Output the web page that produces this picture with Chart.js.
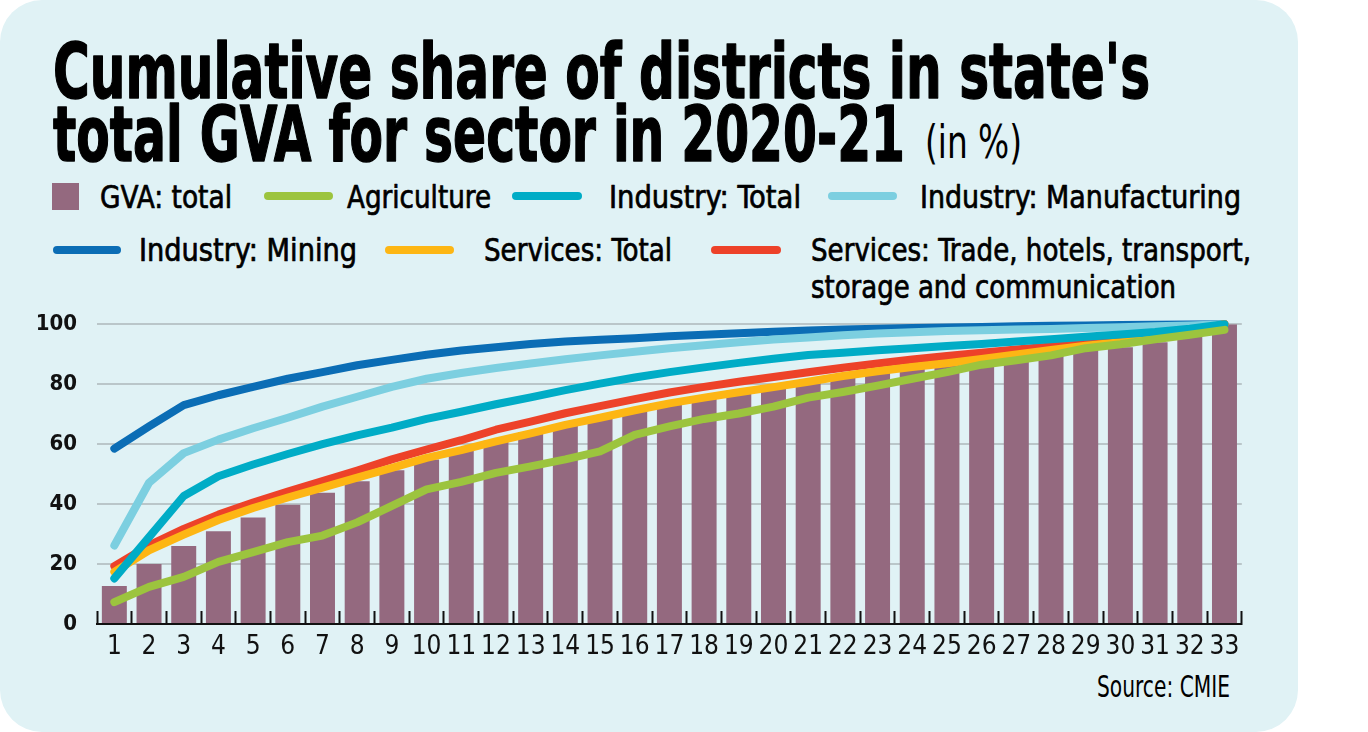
<!DOCTYPE html>
<html><head><meta charset="utf-8">
<script src="https://cdn.jsdelivr.net/npm/chart.js@4.4.1/dist/chart.umd.min.js"></script>
<style>
html,body{margin:0;padding:0;background:#ffffff;width:1368px;height:732px;overflow:hidden}
#bg{position:absolute;left:0;top:0}
#wrap{position:absolute;left:0;top:291px;width:1260px;height:394px}
</style></head><body>
<svg id="bg" width="1368" height="732" xmlns="http://www.w3.org/2000/svg">
  <rect x="0" y="0" width="1298" height="732" rx="42" ry="42" fill="#e0f2f5"/>
  <g id="txt" fill="#000"></g>
</svg>
<div id="wrap"><canvas id="c"></canvas></div>
<script>
// ---------------- DATA ----------------
const categories = ['1','2','3','4','5','6','7','8','9','10','11','12','13','14','15','16','17','18','19','20','21','22','23','24','25','26','27','28','29','30','31','32','33'];
const yTicks = [0, 20, 40, 60, 80, 100];

const gvaTotal = [12.7,20.0,26.0,30.9,35.5,39.8,43.8,47.6,51.3,54.9,58.2,61.1,64.0,66.6,69.1,71.4,73.6,75.8,77.8,79.6,81.3,82.8,84.5,85.9,87.2,88.4,89.6,90.6,91.4,92.3,94.0,95.8,100];
const agriculture = [7.3,12.4,15.7,20.7,24.0,27.3,29.5,33.9,39.4,44.9,47.4,50.4,52.6,54.9,57.6,63.1,65.9,68.4,70.2,72.5,75.5,77.4,79.5,81.8,84.0,86.5,88.0,89.6,92.0,93.3,95.0,96.5,98.1];
const industryTotal = [15.2,29.0,42.7,49.3,53.2,56.7,60.0,62.9,65.5,68.4,70.8,73.3,75.6,78.0,80.2,82.2,84.0,85.6,87.1,88.5,89.7,90.5,91.3,92.0,92.7,93.4,94.2,95.0,95.8,96.6,97.4,98.5,100];
const industryManufacturing = [26.2,47.1,57.0,61.5,65.3,68.8,72.5,75.8,79.1,81.8,83.7,85.4,86.9,88.3,89.6,90.8,92.0,93.0,94.0,94.9,95.6,96.3,96.9,97.3,97.7,98.0,98.2,98.4,98.7,99.0,99.3,99.6,100];
const industryMining = [58.5,65.9,73.0,76.3,79.1,81.8,84.0,86.3,88.1,89.8,91.2,92.3,93.4,94.2,94.8,95.3,96.0,96.5,97.0,97.5,97.9,98.2,98.5,98.7,98.9,99.1,99.3,99.5,99.6,99.7,99.8,99.9,100];
const servicesTotal = [17.4,24.6,29.8,34.7,38.7,42.2,45.5,48.8,52.1,55.4,58.0,60.9,63.6,66.4,68.8,71.3,73.6,75.5,77.3,79.0,80.8,82.7,84.3,85.7,87.0,88.4,89.9,91.4,92.8,94.0,95.3,97.3,100];
const servicesTrade = [19.3,26.2,31.7,36.5,40.5,44.2,47.7,51.2,54.9,58.2,61.3,64.8,67.5,70.3,72.7,75.0,77.2,79.1,80.8,82.4,84.0,85.5,86.9,88.2,89.4,90.5,91.6,92.6,93.6,94.5,95.5,97.5,100];

const titleLine1 = "Cumulative share of districts in state's";
const titleLine2 = "total GVA for sector in 2020-21";
const titleUnit = "(in %)";
const sourceText = "Source: CMIE";
const seriesNames = ["GVA: total","Agriculture","Industry: Total","Industry: Manufacturing","Industry: Mining","Services: Total","Services: Trade, hotels, transport,","storage and communication"];

// ---------------- FONTS ----------------
function avail(f){
  const c=document.createElement('canvas').getContext('2d');
  const s='abcdefghijklmnopqrstuvwxyz0123456789';
  c.font='50px monospace'; const a=c.measureText(s).width;
  c.font='50px "'+f+'", monospace'; const b=c.measureText(s).width;
  c.font='50px serif'; const a2=c.measureText(s).width;
  c.font='50px "'+f+'", serif'; const b2=c.measureText(s).width;
  return a!==b || a2!==b2;
}
const narrow = ['Liberation Sans Narrow','DejaVu Sans Condensed','Open Sans Condensed','Roboto Condensed','Noto Sans Condensed'].find(avail) || 'Roboto';
const fam = '"'+narrow+'", "Liberation Sans", Roboto, sans-serif';
const xSize = 26;
const ySize = 22;

// ---------------- SVG TEXT ----------------
const NS='http://www.w3.org/2000/svg';
const g=document.getElementById('txt');
function txt(s,x,y,size,weight,width,stroke){
  const t=document.createElementNS(NS,'text');
  t.setAttribute('x',x); t.setAttribute('y',y);
  t.setAttribute('font-size',size); t.setAttribute('font-weight',weight);
  t.setAttribute('font-family',fam);
  if(stroke){t.setAttribute('stroke','#000');t.setAttribute('stroke-width',stroke);t.setAttribute('stroke-linejoin','round');}
  if(width){t.setAttribute('textLength',width); t.setAttribute('lengthAdjust','spacingAndGlyphs');}
  t.textContent=s; g.appendChild(t);
}
function seg(x1,x2,y,col){
  const l=document.createElementNS(NS,'line');
  l.setAttribute('x1',x1);l.setAttribute('x2',x2);l.setAttribute('y1',y);l.setAttribute('y2',y);
  l.setAttribute('stroke',col);l.setAttribute('stroke-width',8);l.setAttribute('stroke-linecap','round');
  g.appendChild(l);
}
txt(titleLine1,53,98,76,700,1097,1.4);
txt(titleLine2,53,161,76,700,852,1.4);
txt(titleUnit,925,158,46,400,97);
txt(sourceText,1097,697,30,400,133);

const colors = {gva:'#94697f', agri:'#9cc43e', indT:'#00acc6', manu:'#7ccfe0', mine:'#0b6db5', servT:'#fdb614', trade:'#ed4229'};
// legend
const LW = 0.7;
const sw=document.createElementNS(NS,'rect');
sw.setAttribute('x',52);sw.setAttribute('y',183);sw.setAttribute('width',27);sw.setAttribute('height',27);sw.setAttribute('fill',colors.gva);g.appendChild(sw);
txt(seriesNames[0],100,207.5,32,400,132,LW);
seg(268,329,196,colors.agri); txt(seriesNames[1],347,207.5,32,400,144,LW);
seg(516,578,196,colors.indT); txt(seriesNames[2],609,207.5,32,400,192,LW);
seg(832,893,196,colors.manu); txt(seriesNames[3],920,207.5,32,400,321,LW);
seg(57,117,250,colors.mine); txt(seriesNames[4],139,261,32,400,218,LW);
seg(389,450,250,colors.servT); txt(seriesNames[5],484,261,32,400,188,LW);
seg(715,777,250,colors.trade); txt(seriesNames[6],811,261,32,400,440,LW);
txt(seriesNames[7],811,297.5,32,400,365,LW);

// ---------------- CHART ----------------
const lineDs = (label,data,color,order)=>({type:'line',label,data,borderColor:color,backgroundColor:color,borderWidth:8,pointRadius:0,pointHoverRadius:0,tension:0,borderCapStyle:'round',borderJoinStyle:'round',order,clip:false});
const xPad = 36 - 0.6*xSize;
new Chart(document.getElementById('c'),{
  type:'bar',
  data:{labels:categories,datasets:[
    lineDs(seriesNames[1],agriculture,colors.agri,1),
    lineDs(seriesNames[2],industryTotal,colors.indT,2),
    lineDs(seriesNames[5],servicesTotal,colors.servT,3),
    lineDs(seriesNames[6]+' '+seriesNames[7],servicesTrade,colors.trade,4),
    lineDs(seriesNames[3],industryManufacturing,colors.manu,5),
    lineDs(seriesNames[4],industryMining,colors.mine,6),
    {type:'bar',label:seriesNames[0],data:gvaTotal,backgroundColor:colors.gva,barPercentage:0.72,categoryPercentage:1,order:7}
  ]},
  options:{
    responsive:true,maintainAspectRatio:false,animation:false,devicePixelRatio:1,
    layout:{padding:{top:10,right:16,left:0,bottom:0}},
    plugins:{legend:{display:false},tooltip:{enabled:false},title:{display:false}},
    scales:{
      x:{
        grid:{drawOnChartArea:false,drawTicks:true,tickLength:-13,tickWidth:2,tickColor:'#111',offset:true},
        border:{display:true,color:'#111',width:2},
        ticks:{color:'#111',font:{family:fam,size:xSize},padding:xPad,maxRotation:0,autoSkip:false},
        afterFit(s){s.height=61;}
      },
      y:{
        min:0,max:100,
        afterBuildTicks(s){s.ticks=yTicks.map(v=>({value:v}));},
        ticks:{color:'#111',font:{family:fam,size:ySize,weight:'bold'},padding:20},
        grid:{color:'#bac6c9',lineWidth:2,drawTicks:false},
        border:{display:false},
        afterFit(s){s.width=97;}
      }
    }
  }
});
</script>
</body></html>
